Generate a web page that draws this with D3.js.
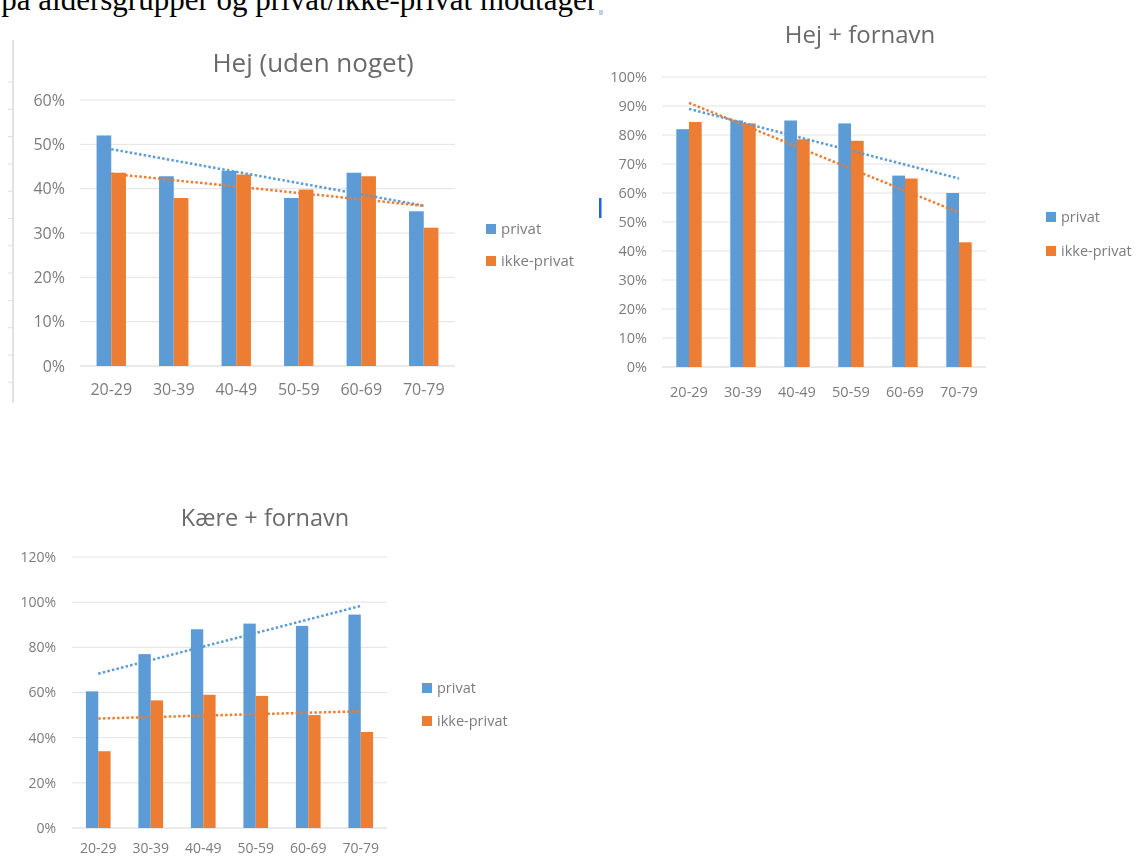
<!DOCTYPE html>
<html>
<head>
<meta charset="utf-8">
<script src="https://cdn.jsdelivr.net/npm/d3@7"></script>
<style>
  body { margin: 0; background: #ffffff; }
  svg { display: block; }
</style>
</head>
<body>
<svg id="page" width="1147" height="856"></svg>
<script>
// Age groups shared by all three charts
const ageGroups = ["20-29", "30-39", "40-49", "50-59", "60-69", "70-79"];

// Share (%) per age group, private vs. non-private recipient
const hejPrivat          = [52, 42.8, 44, 37.9, 43.6, 34.9];
const hejIkkePrivat      = [43.6, 37.9, 43.2, 39.8, 42.8, 31.2];
const fornavnPrivat      = [82, 85, 85, 84, 66, 60];
const fornavnIkkePrivat  = [84.5, 84, 78.5, 78, 65, 43];
const kaerePrivat        = [60.5, 77, 88, 90.5, 89.5, 94.5];
const kaereIkkePrivat    = [34, 56.5, 59, 58.5, 50, 42.5];

// Y-axis tick values
const hejTicks     = [0, 10, 20, 30, 40, 50, 60];
const fornavnTicks = [0, 10, 20, 30, 40, 50, 60, 70, 80, 90, 100];
const kaereTicks   = [0, 20, 40, 60, 80, 100, 120];

const seriesNames  = ["privat", "ikke-privat"];
const seriesColors = ["#5B9BD5", "#ED7D31"];

const chartFont = "'Open Sans', sans-serif";

const svg = d3.select("#page");

// slight softening of the embedded chart images
svg.append("defs").append("filter")
  .attr("id", "soft")
  .attr("x", "-5%").attr("y", "-5%").attr("width", "110%").attr("height", "110%")
  .append("feGaussianBlur").attr("stdDeviation", 0.7);

// Document text line above the charts (partly cut at the top edge)
svg.append("text")
  .attr("x", 597).attr("y", 10)
  .attr("text-anchor", "end")
  .attr("font-family", "'Liberation Serif', 'Times New Roman', serif")
  .attr("font-size", 31)
  .attr("fill", "#000")
  .text("på aldersgrupper og privat/ikke-privat modtager");

// small selection markers in the document
svg.append("rect").attr("x", 599).attr("y", 10).attr("width", 4).attr("height", 5).attr("fill", "#a9c4ee").attr("opacity", 0.8);
svg.append("rect").attr("x", 599).attr("y", 198).attr("width", 2.5).attr("height", 20).attr("fill", "#1a66e0");

// faint frame of the first chart image
const frame = svg.append("g").attr("filter", "url(#soft)");
frame.append("line").attr("x1", 13).attr("x2", 13).attr("y1", 40).attr("y2", 403)
  .attr("stroke", "#cfcfcf").attr("stroke-width", 1.2);
d3.range(82, 400, 27.3).forEach(y => {
  frame.append("line").attr("x1", 8).attr("x2", 13).attr("y1", y).attr("y2", y)
    .attr("stroke", "#dedede").attr("stroke-width", 1);
});

const charts = [
  { title: "Hej (uden noget)", series: [hejPrivat, hejIkkePrivat], ticks: hejTicks,
    x0: 80, x1: 455, yTop: 100, yBottom: 366, titleX: 313, titleY: 63, titleFont: 26,
    yLabelX: 65, tickFont: 16, xLabelY: 389, legendX: 486, legendY: [229, 261], legendFont: 15 },
  { title: "Hej + fornavn", series: [fornavnPrivat, fornavnIkkePrivat], ticks: fornavnTicks,
    x0: 662, x1: 986, yTop: 77, yBottom: 367, titleX: 860, titleY: 35, titleFont: 24,
    yLabelX: 647, tickFont: 14.5, xLabelY: 392, legendX: 1046, legendY: [217, 251], legendFont: 14.5 },
  { title: "Kære + fornavn", series: [kaerePrivat, kaereIkkePrivat], ticks: kaereTicks,
    x0: 72, x1: 387, yTop: 557, yBottom: 828, titleX: 265, titleY: 518, titleFont: 23.5,
    yLabelX: 56, tickFont: 14, xLabelY: 848, legendX: 422, legendY: [688, 721], legendFont: 14.5 }
];

// least-squares line through the points (index, value)
function linearFit(values) {
  const n = values.length;
  const xs = d3.range(n);
  const mx = d3.mean(xs), my = d3.mean(values);
  const sxy = d3.sum(xs, (x, i) => (x - mx) * (values[i] - my));
  const sxx = d3.sum(xs, x => (x - mx) * (x - mx));
  const slope = sxy / sxx;
  return x => my + slope * (x - mx);
}

charts.forEach(cfg => {
  const g = svg.append("g").attr("filter", "url(#soft)");

  const x = d3.scaleBand()
    .domain(ageGroups)
    .range([cfg.x0, cfg.x1])
    .paddingInner(0.53)
    .paddingOuter(0.265);

  const xs = d3.scaleBand()
    .domain(seriesNames)
    .range([0, x.bandwidth()]);

  const y = d3.scaleLinear()
    .domain([0, d3.max(cfg.ticks)])
    .range([cfg.yBottom, cfg.yTop]);

  // gridlines
  g.append("g")
    .selectAll("line")
    .data(cfg.ticks)
    .join("line")
    .attr("x1", cfg.x0).attr("x2", cfg.x1)
    .attr("y1", d => y(d)).attr("y2", d => y(d))
    .attr("stroke", d => d === 0 ? "#d4d4d4" : "#e2e2e2")
    .attr("stroke-width", 1);

  // y axis labels
  const yAxis = g.append("g")
    .attr("transform", `translate(${cfg.yLabelX},0)`)
    .call(d3.axisLeft(y).tickValues(cfg.ticks).tickSize(0).tickPadding(0).tickFormat(d => d + "%"));
  yAxis.select(".domain").remove();
  yAxis.selectAll("text")
    .attr("font-family", chartFont)
    .attr("font-size", cfg.tickFont)
    .attr("fill", "#7c7c7c");

  // x axis labels
  const xAxis = g.append("g")
    .attr("transform", `translate(0,${cfg.xLabelY})`)
    .call(d3.axisBottom(x).tickSize(0).tickPadding(0));
  xAxis.select(".domain").remove();
  xAxis.selectAll("text")
    .attr("dy", "0.35em")
    .attr("font-family", chartFont)
    .attr("font-size", cfg.tickFont)
    .attr("fill", "#7c7c7c");

  // bars
  const rows = ageGroups.map((a, i) => ({ age: a, vals: cfg.series.map(s => s[i]) }));
  g.append("g")
    .selectAll("g")
    .data(rows)
    .join("g")
    .attr("transform", d => `translate(${x(d.age)},0)`)
    .selectAll("rect")
    .data(d => d.vals.map((v, k) => ({ name: seriesNames[k], v, k })))
    .join("rect")
    .attr("x", d => xs(d.name))
    .attr("width", xs.bandwidth())
    .attr("y", d => y(d.v))
    .attr("height", d => y(0) - y(d.v))
    .attr("fill", d => seriesColors[d.k]);

  // linear trendlines (dotted)
  cfg.series.forEach((s, k) => {
    const f = linearFit(s);
    const first = 0, last = ageGroups.length - 1;
    g.append("line")
      .attr("x1", x(ageGroups[first]) + x.bandwidth() / 2)
      .attr("x2", x(ageGroups[last]) + x.bandwidth() / 2)
      .attr("y1", y(f(first)))
      .attr("y2", y(f(last)))
      .attr("stroke", seriesColors[k])
      .attr("stroke-width", 2.5)
      .attr("stroke-dasharray", "2.5 2.2");
  });

  // title
  g.append("text")
    .attr("x", cfg.titleX).attr("y", cfg.titleY)
    .attr("dy", "0.35em")
    .attr("text-anchor", "middle")
    .attr("font-family", chartFont)
    .attr("font-size", cfg.titleFont)
    .attr("fill", "#6a6a6a")
    .text(cfg.title);

  // legend
  const lg = g.append("g");
  seriesNames.forEach((name, k) => {
    lg.append("rect")
      .attr("x", cfg.legendX).attr("y", cfg.legendY[k] - 5)
      .attr("width", 10).attr("height", 10)
      .attr("fill", seriesColors[k]);
    lg.append("text")
      .attr("x", cfg.legendX + 15).attr("y", cfg.legendY[k])
      .attr("dy", "0.35em")
      .attr("font-family", chartFont)
      .attr("font-size", cfg.legendFont)
      .attr("fill", "#7c7c7c")
      .text(name);
  });
});
</script>
</body>
</html>
